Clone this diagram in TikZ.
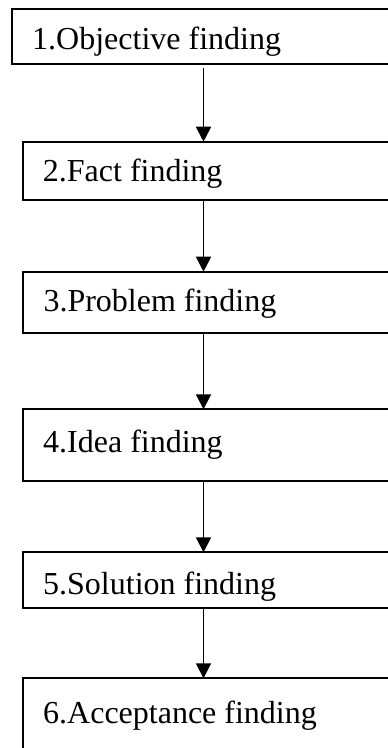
\documentclass[tikz,border=0pt]{standalone}
\usepackage{fontspec}
\setmainfont{Liberation Serif}
\usetikzlibrary{arrows.meta}
\tikzset{
  stepbox/.style={draw, line width=2pt, rectangle, inner sep=0pt, outer sep=0pt, anchor=north west},
  steptext/.style={anchor=base west, inner sep=0pt, font=\fontsize{32}{38}\selectfont},
  flow/.style={draw, line width=1.8pt, -{Triangle[length=15pt,width=15pt]}}
}
\begin{document}
\begin{tikzpicture}[x=1pt, y=-1pt]
  \useasboundingbox (0,0) rectangle (388,748);
  \clip (0,0) rectangle (388,748);

  % process boxes (they run past the right and bottom edges)
  \node[stepbox, minimum width=388pt,   minimum height=55pt]   (b1) at (12,9) {};
  \node[stepbox, minimum width=377.3pt, minimum height=58.3pt] (b2) at (22.7,141.7) {};
  \node[stepbox, minimum width=377.3pt, minimum height=61.6pt] (b3) at (22.7,271.7) {};
  \node[stepbox, minimum width=377.3pt, minimum height=71.7pt] (b4) at (22.7,409.3) {};
  \node[stepbox, minimum width=377.3pt, minimum height=56pt]   (b5) at (22.7,552.3) {};
  \node[stepbox, minimum width=377.3pt, minimum height=82pt]   (b6) at (22.7,678.3) {};

  % step labels
  \node[steptext] (t1) at (32,49.3)    {1.Objective finding};
  \node[steptext] (t2) at (42.7,181.7) {2.Fact finding};
  \node[steptext] (t3) at (43.3,311.7) {3.Problem finding};
  \node[steptext] (t4) at (43,452.7)   {4.Idea finding};
  \node[steptext] (t5) at (43,594)     {5.Solution finding};
  \node[steptext] (t6) at (43,723.3)   {6.Acceptance finding};

  % connectors down the middle
  \coordinate (ax) at (203.5,0);
  \draw[flow, shorten <=4pt] (b1.south -| ax) -- (b2.north -| ax);
  \draw[flow] (b2.south -| ax) -- (b3.north -| ax);
  \draw[flow] (b3.south -| ax) -- (b4.north -| ax);
  \draw[flow] (b4.south -| ax) -- (b5.north -| ax);
  \draw[flow] (b5.south -| ax) -- (b6.north -| ax);
\end{tikzpicture}
\end{document}
